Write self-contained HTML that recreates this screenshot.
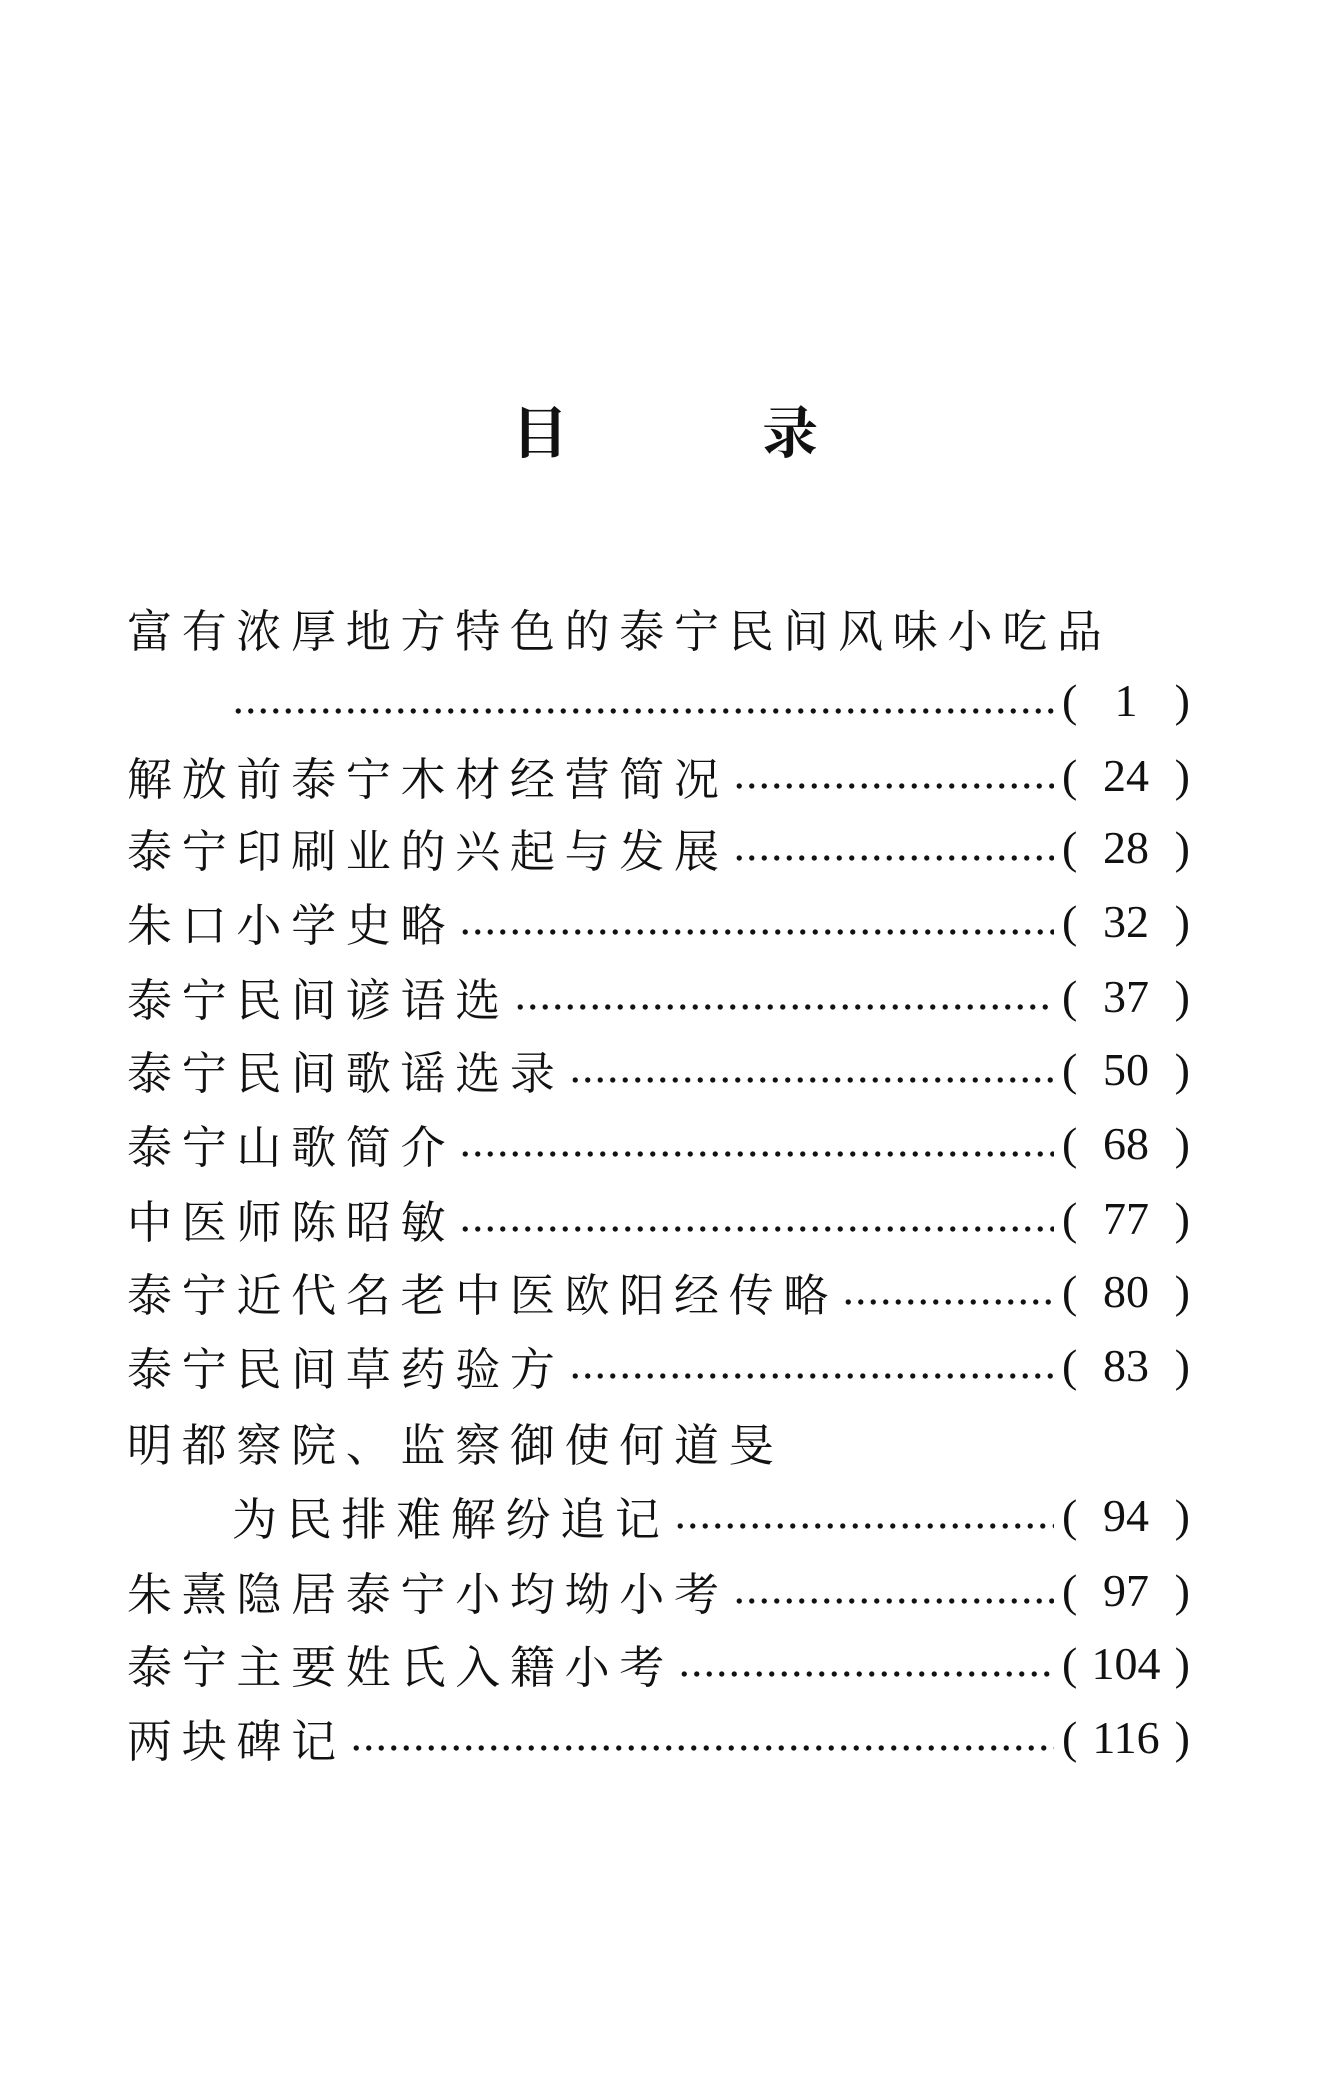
<!DOCTYPE html>
<html><head><meta charset="utf-8">
<style>
html,body{margin:0;padding:0;background:#fff;}
body{width:1336px;height:2074px;position:relative;overflow:hidden;font-family:"Liberation Serif","Noto Serif CJK SC",serif;color:#111;}
.t{position:absolute;font-size:56px;font-weight:bold;top:390px;}
.r{position:absolute;left:127px;width:1063px;height:54px;display:flex;align-items:center;font-size:45px;}
.tx{letter-spacing:9.7px;white-space:nowrap;}
.ld{flex:1;height:54px;background-image:radial-gradient(circle,#111 2.3px,transparent 2.9px);background-size:12.5px 12px;background-repeat:repeat-x;background-position:0 32px;margin:0 8px 0 4px;}
.pg{width:128px;display:flex;justify-content:space-between;font-family:"Liberation Serif",serif;font-size:46px;}
.pg b{font-weight:normal;}
</style></head><body>
<div class="t" style="left:512px">目</div>
<div class="t" style="left:762px">录</div>

<div class="r" style="top:600px"><span class="tx">富有浓厚地方特色的泰宁民间风味小吃品</span></div>
<div class="r" style="top:673px;left:228px;width:962px"><span class="ld"></span><span class="pg"><b>(</b><b>1</b><b>)</b></span></div>
<div class="r" style="top:748px"><span class="tx">解放前泰宁木材经营简况</span><span class="ld"></span><span class="pg"><b>(</b><b>24</b><b>)</b></span></div>
<div class="r" style="top:820px"><span class="tx">泰宁印刷业的兴起与发展</span><span class="ld"></span><span class="pg"><b>(</b><b>28</b><b>)</b></span></div>
<div class="r" style="top:894px"><span class="tx">朱口小学史略</span><span class="ld"></span><span class="pg"><b>(</b><b>32</b><b>)</b></span></div>
<div class="r" style="top:969px"><span class="tx">泰宁民间谚语选</span><span class="ld"></span><span class="pg"><b>(</b><b>37</b><b>)</b></span></div>
<div class="r" style="top:1042px"><span class="tx">泰宁民间歌谣选录</span><span class="ld"></span><span class="pg"><b>(</b><b>50</b><b>)</b></span></div>
<div class="r" style="top:1116px"><span class="tx">泰宁山歌简介</span><span class="ld"></span><span class="pg"><b>(</b><b>68</b><b>)</b></span></div>
<div class="r" style="top:1191px"><span class="tx">中医师陈昭敏</span><span class="ld"></span><span class="pg"><b>(</b><b>77</b><b>)</b></span></div>
<div class="r" style="top:1264px"><span class="tx">泰宁近代名老中医欧阳经传略</span><span class="ld"></span><span class="pg"><b>(</b><b>80</b><b>)</b></span></div>
<div class="r" style="top:1338px"><span class="tx">泰宁民间草药验方</span><span class="ld"></span><span class="pg"><b>(</b><b>83</b><b>)</b></span></div>
<div class="r" style="top:1414px"><span class="tx">明都察院、监察御使何道旻</span></div>
<div class="r" style="top:1488px;left:232px;width:958px"><span class="tx">为民排难解纷追记</span><span class="ld"></span><span class="pg"><b>(</b><b>94</b><b>)</b></span></div>
<div class="r" style="top:1563px"><span class="tx">朱熹隐居泰宁小均坳小考</span><span class="ld"></span><span class="pg"><b>(</b><b>97</b><b>)</b></span></div>
<div class="r" style="top:1636px"><span class="tx">泰宁主要姓氏入籍小考</span><span class="ld"></span><span class="pg"><b>(</b><b>104</b><b>)</b></span></div>
<div class="r" style="top:1710px"><span class="tx">两块碑记</span><span class="ld"></span><span class="pg"><b>(</b><b>116</b><b>)</b></span></div>
</body></html>
